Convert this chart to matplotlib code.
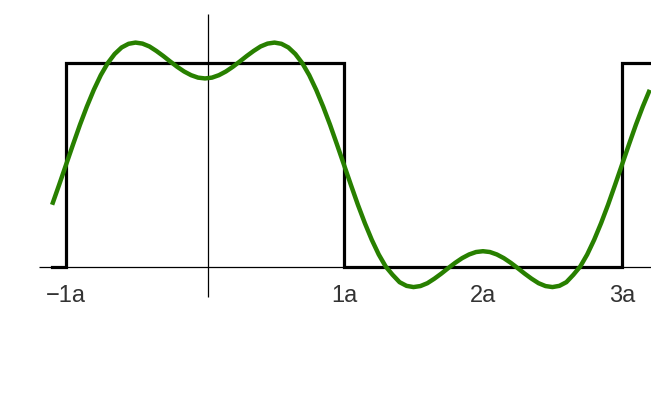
import numpy as np
import matplotlib
matplotlib.use('Agg')
import matplotlib.pyplot as plt

# square wave (period 4a), corner points
sq_x=[-1.1,-1.0,-1.0,1.0,1.0,3.0,3.0,3.3]
sq_y=[0,0,1,1,0,0,1,1]

# green approximation curve, read every 0.05a from -1.1a to 3.2a
g_x=np.round(np.arange(-1.1,3.201,0.05),2)
g_y=[0.304,0.401,0.500,0.599,0.696,0.786,0.868,0.940,0.999,1.044,
     1.076,1.094,1.100,1.095,1.081,1.059,1.034,1.007,0.981,0.958,
     0.940,0.928,
     0.924,
     0.928,0.940,0.958,0.981,1.007,1.034,1.059,1.081,1.095,1.100,
     1.094,1.076,1.044,0.999,0.940,0.868,0.786,0.696,0.599,0.500,
     0.401,0.304,0.214,0.132,0.060,0.001,-0.040,-0.076,-0.094,-0.100,
     -0.095,-0.081,-0.059,-0.034,-0.007,0.019,0.042,0.060,0.072,
     0.076,
     0.072,0.060,0.042,0.019,-0.007,-0.034,-0.059,-0.081,-0.095,-0.100,
     -0.094,-0.076,-0.040,0.001,0.060,0.132,0.214,0.304,0.401,0.500,
     0.599,0.696,0.786,0.868]

tick_pos=[-1,1,2,3]
tick_lab=['\u22121a','1a','2a','3a']

matplotlib.rcParams['font.family']=['Liberation Sans','DejaVu Sans']

fig=plt.figure(figsize=(6.51,4.03),dpi=100)
ax=fig.add_axes([0,0,1,1])
ax.set_xlim(-1.475,3.209)
ax.set_ylim(-0.669,1.309)
ax.axis('off')

# axes lines
ax.plot([-1.194,3.3],[0,0],color='black',lw=0.9,solid_capstyle='butt')
ax.plot([0.02,0.02],[-0.149,1.24],color='black',lw=0.9,solid_capstyle='butt')

ax.plot(sq_x,sq_y,color='black',lw=2.3,solid_joinstyle='miter')
ax.plot(g_x[:len(g_y)],g_y,color='#288000',lw=3.2,solid_capstyle='butt')

for p,l in zip(tick_pos,tick_lab):
	ax.text(p,-0.146,l,ha='center',va='center',fontsize=17,color='#333333')

fig.savefig('out.png',dpi=100)
